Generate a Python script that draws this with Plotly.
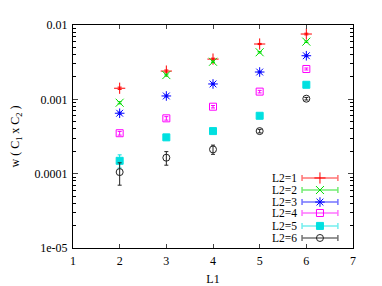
import plotly.graph_objects as go

L1 = [2, 3, 4, 5, 6]
labels = ["L2=1", "L2=2", "L2=3", "L2=4", "L2=5", "L2=6"]
w_L2_1 = [0.00141, 0.0024, 0.00348, 0.00555, 0.00756]
w_L2_2 = [0.0009, 0.00212, 0.0032, 0.0043, 0.00597]
w_L2_3 = [0.00065, 0.00111, 0.00161, 0.00233, 0.00386]
w_L2_4 = [0.00035, 0.000555, 0.000796, 0.00127, 0.00256]
w_L2_5 = [0.000149, 0.000308, 0.000374, 0.000601, 0.00157]
w_L2_6 = [0.000105, 0.000164, 0.000212, 0.000374, 0.00102]
err_L2_1 = [0.00005, 0.00008, 0.0001, 0.0001, 0.0002]
err_L2_2 = [0.00003, 0.00006, 0.00008, 0.0001, 0.00015]
err_L2_3 = [0.00002, 0.00003, 0.00004, 0.00005, 0.0001]
err_L2_4 = [0.00002, 0.00003, 0.00003, 0.00005, 0.00008]
err_L2_5 = [0.00003, 0.00001, 0.00001, 0.00002, 0.00004]
err_L2_6 = [0.000035, 0.000034, 0.00003, 0.00002, 0.00004]
y_tickvals = [1e-5, 1e-4, 1e-3, 1e-2]
y_ticktext = ["1e-05", "0.0001", "0.001", "0.01"]
x_tickvals = [1, 2, 3, 4, 5, 6, 7]
y_minor_vals = [m * 10.0 ** e for e in (-5, -4, -3) for m in range(2, 10)]

series = [w_L2_1, w_L2_2, w_L2_3, w_L2_4, w_L2_5, w_L2_6]
errors = [err_L2_1, err_L2_2, err_L2_3, err_L2_4, err_L2_5, err_L2_6]
colors = ["#ff0000", "#00dd00", "#0000ff", "#ff00ff", "#00e0e0", "#222222"]
light = ["rgba(255,0,0,0.55)", "rgba(0,220,0,0.55)", "rgba(0,0,255,0.55)",
         "rgba(255,0,255,0.55)", "rgba(0,224,224,0.55)", "rgba(0,0,0,0.55)"]
symbols = ["cross-thin-open", "x-thin-open", "asterisk-open", "square-open", "square", "circle-open"]
sizes = [8, 8, 8, 7, 7, 7]

FONT = "Liberation Serif"
fig = go.Figure()
for i, (ys, es) in enumerate(zip(series, errors)):
    fig.add_trace(go.Scatter(
        x=L1, y=ys, mode="markers", name=labels[i], showlegend=False,
        marker=dict(symbol=symbols[i], size=sizes[i], color=colors[i],
                    line=dict(width=1, color=colors[i])),
        error_y=dict(type="data", array=es, color=colors[i], thickness=1, width=2),
    ))

# legend samples in an overlay axis (0..1 space)
leg_y = [0.314, 0.260, 0.206, 0.157, 0.099, 0.045]
for i in range(6):
    fig.add_trace(go.Scatter(
        x=[0.882], y=[leg_y[i]], mode="markers", xaxis="x2", yaxis="y2", showlegend=False,
        marker=dict(symbol=symbols[i], size=sizes[i], color=colors[i],
                    line=dict(width=1, color=colors[i])),
        error_x=dict(type="constant", value=0.064, color=light[i], thickness=1.5, width=3),
        hoverinfo="skip",
    ))
    fig.add_annotation(x=0.807, y=leg_y[i], xref="paper", yref="paper", text=labels[i],
                       showarrow=False, xanchor="right", yanchor="middle",
                       font=dict(family=FONT, size=11.5, color="black"))

# page body adds an 8px offset; compensate in size/margins
fig.update_layout(
    width=374, height=278,
    margin=dict(l=65, r=29, t=17, b=38),
    paper_bgcolor="white", plot_bgcolor="white",
    font=dict(family=FONT, size=12, color="black"),
    xaxis=dict(range=[1, 7], tickvals=x_tickvals, ticks="inside", ticklen=4, tickwidth=1,
               showline=True, linecolor="black", linewidth=1, mirror="allticks",
               showgrid=False, zeroline=False, automargin=False, ticklabelstandoff=2,
               title=dict(text="L1", standoff=9, font=dict(size=12))),
    yaxis=dict(type="log", range=[-5, -2], tickvals=y_tickvals, ticktext=y_ticktext,
               ticks="inside", ticklen=5, tickwidth=1, showline=True, linecolor="black", linewidth=1,
               mirror="allticks", showgrid=False, zeroline=False, automargin=False,
               ticklabelstandoff=2,
               minor=dict(tickvals=y_minor_vals, ticks="inside", ticklen=3, tickwidth=1,
                          tickcolor="black", showgrid=False),
               title=dict(text="w ( C<sub>1</sub> x C<sub>2</sub> )", standoff=14, font=dict(size=12))),
    xaxis2=dict(range=[0, 1], overlaying="x", visible=False, showline=False, ticks=""),
    yaxis2=dict(range=[0, 1], overlaying="y", visible=False, showline=False, ticks=""),
)
fig.write_html("out.html")
